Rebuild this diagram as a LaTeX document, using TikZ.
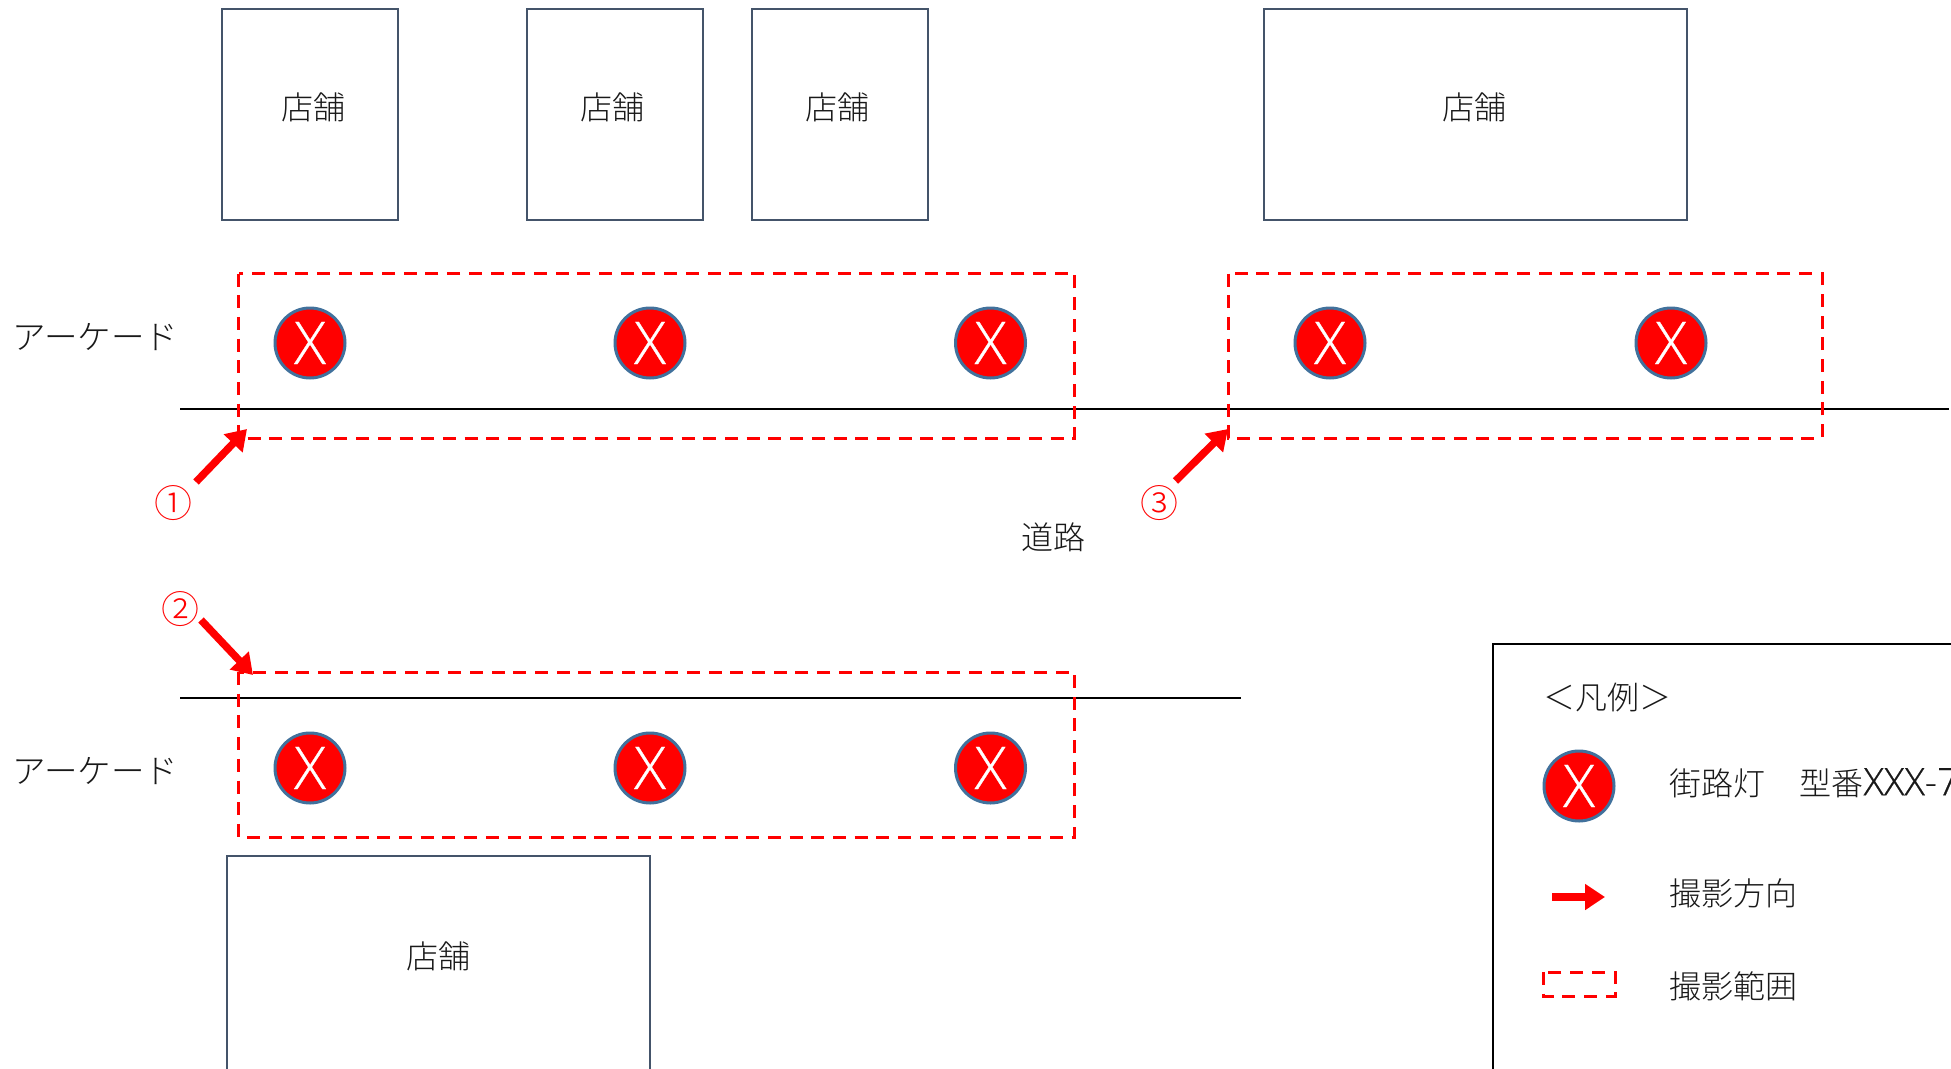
\documentclass[tikz,border=0pt]{standalone}
\usepackage{fontspec}
\setmainfont{Noto Sans CJK JP Light}
\newfontfamily\latinfont[FakeBold=0.5]{Open Sans Light}
\usetikzlibrary{arrows.meta}

\definecolor{lampedge}{HTML}{41719C}
\definecolor{shopedge}{HTML}{44546A}
\tikzset{
	shop/.style={draw=shopedge,line width=2pt},
	zone/.style={draw=red,line width=3pt,dash pattern=on 13pt off 8.7pt},
	lamp/.style={circle,draw=lampedge,fill=red,line width=3pt,minimum size=70pt,inner sep=0pt,text=white,font=\latinfont\fontsize{59}{59}\selectfont},
	shot/.style={-{Triangle[length=20pt,width=25pt]},red,line width=7.5pt},
	lbl/.style={font=\fontsize{32}{36}\selectfont,text=black!90},
	arcade/.style={font=\fontsize{33.5}{36}\selectfont,text=black!90},
	num/.style={font=\fontsize{38}{40}\selectfont,text=red}
}

\begin{document}
\begin{tikzpicture}[x=1pt,y=-1pt]
	\useasboundingbox (0,0) rectangle (1951,1068);
	
	% Shops
	\draw[shop] (221.5,9) rectangle (398,220);
	\draw[shop] (526.5,9) rectangle (703,220);
	\draw[shop] (751.5,9) rectangle (928,220);
	\draw[shop] (1264,9) rectangle (1687,220);
	\draw[shop] (227,856) rectangle (649.5,1090);
	\node[lbl] (shopa) at (313,107) {店舗};
	\node[lbl] (shopb) at (612,107) {店舗};
	\node[lbl] (shopc) at (837,107) {店舗};
	\node[lbl] (shopd) at (1474.5,107) {店舗};
	\node[lbl] (shope) at (438,956) {店舗};
	
	% Road edges
	\coordinate (uppera) at (180,408.5);
	\coordinate (upperb) at (1949,408.5);
	\coordinate (lowera) at (180,698);
	\coordinate (lowerb) at (1241,698);
	\draw[line width=2pt] (uppera) -- (upperb);
	\draw[line width=2pt] (lowera) -- (lowerb);
	\node[arcade,anchor=west] (arcadea) at (9,337.5) {アーケード};
	\node[arcade,anchor=west] (arcadeb) at (9,771) {アーケード};
	\node[lbl] (road) at (1053,537) {道路};
	
	% Lamps
	\foreach \x/\name in {310/a,650/b,990.5/c,1330/d,1671/e}
		\node[lamp] (lamp\name) at (\x,343) {X};
	\foreach \x/\name in {310/f,650/g,990.5/h}
		\node[lamp] (lamp\name) at (\x,768) {X};
	
	% Shooting ranges
	\draw[zone] (238.5,273.5) rectangle (1074.5,438);
	\draw[zone] (1228,273.5) rectangle (1822,438);
	\draw[zone] (238.5,672) rectangle (1074.5,837);
	
	% Shooting directions
	\node[num] (numa) at (173,503) {①};
	\node[num] (numb) at (180,609) {②};
	\node[num] (numc) at (1159.5,503) {③};
	\coordinate (tipa) at (247,429);
	\coordinate (tipb) at (253,675);
	\coordinate (tipc) at (1228,429);
	\draw[shot] (numa) ++(23,-21) -- (tipa);
	\draw[shot] (numb) ++(21,11) -- (tipb);
	\draw[shot] (numc) ++(16,-22) -- (tipc);
	
	% Legend
	\draw[line width=2pt] (1493,1090) -- (1493,644) -- (1960,644);
	\node[lbl] (legend) at (1607,697) {＜凡例＞};
	\node[lamp] (lampkey) at (1579,786) {X};
	\node[lbl,anchor=west] (lampname) at (1666,783) {街路灯\hspace{2pt}　型番{\latinfont\fontsize{38}{36}\selectfont XXX-7}};
	\coordinate (keya) at (1552,897);
	\coordinate (keyb) at (1605,897);
	\draw[shot] (keya) -- (keyb);
	\node[lbl,anchor=west] (dirname) at (1666,893) {撮影方向};
	\draw[zone] (1543,972) rectangle (1615,996);
	\node[lbl,anchor=west] (rangename) at (1666,986) {撮影範囲};
	
\end{tikzpicture}
\end{document}
